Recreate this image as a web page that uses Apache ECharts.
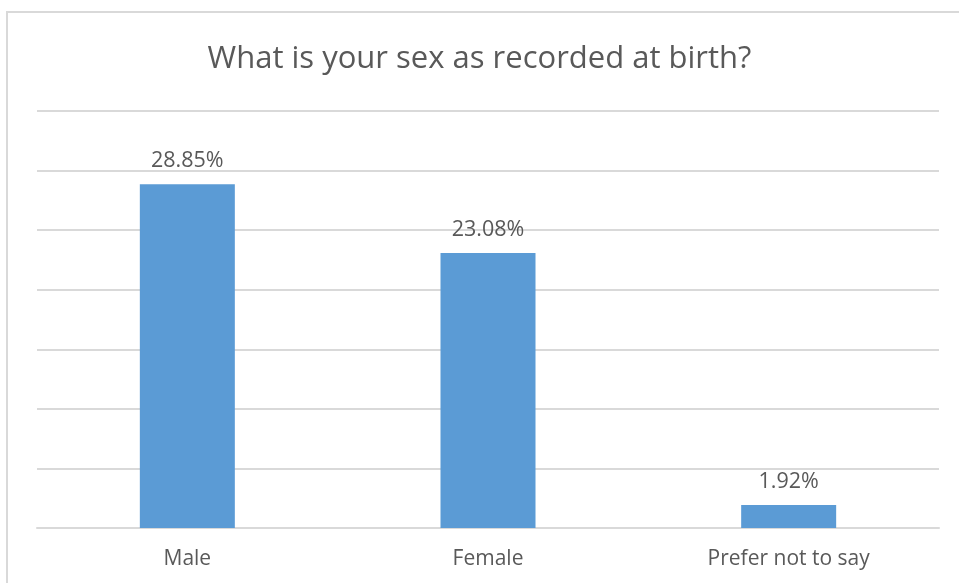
<!DOCTYPE html>
<html>
<head>
<meta charset="utf-8">
<script src="https://cdn.jsdelivr.net/npm/echarts@6/dist/echarts.min.js"></script>
<style>html,body{margin:0;padding:0;background:#fff;}#c{width:959px;height:583px;}</style>
</head>
<body>
<div id="c"></div>
<script>
const categories = ['Male', 'Female', 'Prefer not to say'];
const values = [28.85, 23.08, 1.92];
const titleText = 'What is your sex as recorded at birth?';
const yMax = 35;
const yInterval = 5;

const chart = echarts.init(document.getElementById('c'), null, {renderer: 'canvas'});
const font = '"Open Sans", "Liberation Sans", sans-serif';
chart.setOption({
  animation: false,
  backgroundColor: '#fff',
  graphic: [{
    type: 'rect', shape: {x: 7, y: 12, width: 1000, height: 1000},
    style: {fill: 'none', stroke: '#d9d9d9', lineWidth: 2}, silent: true, z: -1
  }],
  title: {
    text: titleText, left: 'center', top: 39,
    textStyle: {fontFamily: font, fontSize: 31, fontWeight: 'normal', color: '#595959'}
  },
  grid: {left: 37, right: 20, top: 111, bottom: 55, containLabel: false},
  xAxis: {
    type: 'category', data: categories,
    axisLine: {show: true, lineStyle: {color: '#d9d9d9', width: 2}},
    axisTick: {show: false},
    axisLabel: {fontFamily: font, fontSize: 21, color: '#595959', margin: 21}
  },
  yAxis: {
    type: 'value', min: 0, max: yMax, interval: yInterval,
    axisLabel: {show: false}, axisLine: {show: false}, axisTick: {show: false},
    splitLine: {lineStyle: {color: '#d9d9d9', width: 2}}
  },
  series: [{
    type: 'bar', data: values, barWidth: 95,
    itemStyle: {color: '#5b9bd5'},
    label: {show: true, position: 'top', distance: 12, formatter: p => p.value.toFixed(2) + '%',
      fontFamily: font, fontSize: 21.5, color: '#595959'}
  }]
});
</script>
</body>
</html>
